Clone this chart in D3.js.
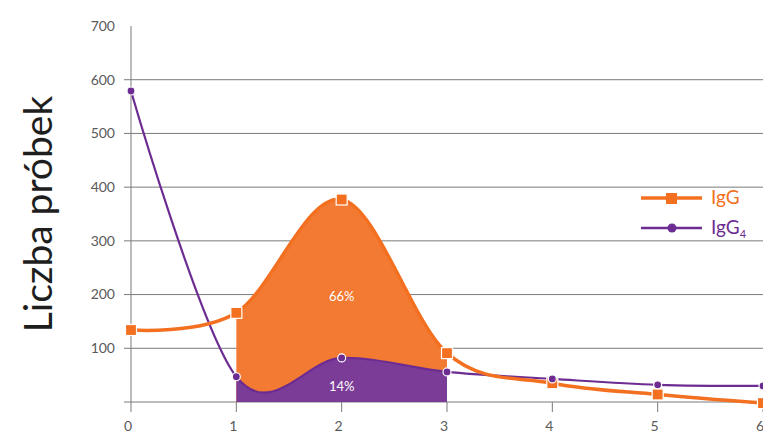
<!DOCTYPE html>
<html>
<head>
  <meta charset="utf-8">
  <title>IgG / IgG4</title>
  <script src="https://d3js.org/d3.v7.min.js"></script>
  <style>
    body { margin: 0; background: #fff; }
    svg { display: block; font-family: Lato, "Open Sans", sans-serif; }
  </style>
</head>
<body>
  <div id="chart"></div>
  <script>
    // dane
    var xValues = [0, 1, 2, 3, 4, 5, 6];
    var igg = [134, 166, 377, 91, 35, 14, -2];
    var igg4 = [579, 47, 82, 56, 43, 32, 30];
    var yTicks = [100, 200, 300, 400, 500, 600, 700];
    var xTicks = [0, 1, 2, 3, 4, 5, 6];
    var shadeFrom = 1, shadeTo = 3;
    var iggShare = "66%", igg4Share = "14%";

    var W = 763, H = 431;
    var orange = "#f37021", orangeFill = "#f37a32";
    var purple = "#6d2c91", purpleFill = "#7b3c98";

    var svg = d3.select("#chart").append("svg")
      .attr("width", W).attr("height", H);

    var x = d3.scaleLinear().domain([0, 6]).range([131, 763]);
    var y = d3.scaleLinear().domain([0, 700]).range([402, 26]);

    // siatka pozioma
    svg.append("g")
      .selectAll("line")
      .data([0].concat(yTicks.filter(d => d < 700)))
      .join("line")
      .attr("x1", 124).attr("x2", W)
      .attr("y1", d => y(d)).attr("y2", d => y(d))
      .attr("stroke", "#7a7a7a").attr("stroke-width", 1);

    // os Y
    svg.append("line")
      .attr("x1", x(0)).attr("x2", x(0))
      .attr("y1", y(700)).attr("y2", y(0))
      .attr("stroke", "#7a7a7a").attr("stroke-width", 1);

    svg.append("g").selectAll("text")
      .data(yTicks)
      .join("text")
      .attr("x", 115)
      .attr("y", d => y(d))
      .attr("dy", "0.35em")
      .attr("text-anchor", "end")
      .attr("fill", "#5a5a5a")
      .attr("font-size", 14)
      .text(d => d);

    // os X
    svg.append("g").selectAll("line")
      .data(xTicks)
      .join("line")
      .attr("x1", d => x(d)).attr("x2", d => x(d))
      .attr("y1", y(0)).attr("y2", y(0) + 10)
      .attr("stroke", "#7a7a7a");

    svg.append("g").selectAll("text")
      .data(xTicks)
      .join("text")
      .attr("x", d => x(d) - 3)
      .attr("y", 431)
      .attr("text-anchor", "middle")
      .attr("fill", "#5a5a5a")
      .attr("font-size", 14)
      .text(d => d);

    // podpis osi
    svg.append("text")
      .attr("transform", "translate(52,214) rotate(-90)")
      .attr("text-anchor", "middle")
      .attr("fill", "#1e1e1e")
      .attr("font-size", 39)
      .text("Liczba próbek");

    var iggPts = xValues.map((d, i) => [d, igg[i]]);
    var igg4Pts = xValues.map((d, i) => [d, igg4[i]]);
    var curve = d3.curveCardinal.tension(0);

    // obszary zacienione miedzy 1 a 3
    svg.append("clipPath").attr("id", "shade")
      .append("rect")
      .attr("x", x(shadeFrom)).attr("y", 0)
      .attr("width", x(shadeTo) - x(shadeFrom)).attr("height", y(0));

    var area = d3.area()
      .x(d => x(d[0])).y0(y(0)).y1(d => y(d[1]))
      .curve(curve);

    svg.append("path").datum(iggPts)
      .attr("clip-path", "url(#shade)")
      .attr("fill", orangeFill)
      .attr("d", area);

    svg.append("path").datum(igg4Pts)
      .attr("clip-path", "url(#shade)")
      .attr("fill", purpleFill)
      .attr("d", area);

    var line = d3.line().x(d => x(d[0])).y(d => y(d[1])).curve(curve);

    svg.append("path").datum(igg4Pts)
      .attr("fill", "none").attr("stroke", purple)
      .attr("stroke-width", 2.2)
      .attr("d", line);

    svg.append("path").datum(iggPts)
      .attr("fill", "none").attr("stroke", orange)
      .attr("stroke-width", 3.5)
      .attr("d", line);

    // znaczniki
    svg.append("g").selectAll("rect")
      .data(iggPts)
      .join("rect")
      .attr("x", d => x(d[0]) - 5.5).attr("y", d => y(d[1]) - 5.5)
      .attr("width", 11).attr("height", 11)
      .attr("fill", orange).attr("stroke", "#fff").attr("stroke-width", 1.2);

    svg.append("g").selectAll("circle")
      .data(igg4Pts)
      .join("circle")
      .attr("cx", d => x(d[0])).attr("cy", d => y(d[1]))
      .attr("r", 4)
      .attr("fill", purple).attr("stroke", "#fff").attr("stroke-width", 1.2);

    // etykiety procentowe
    svg.append("text")
      .attr("x", x(2)).attr("y", y(200) + 6)
      .attr("text-anchor", "middle").attr("fill", "#fff")
      .attr("font-size", 13)
      .text(iggShare);

    svg.append("text")
      .attr("x", x(2)).attr("y", y(30) + 5)
      .attr("text-anchor", "middle").attr("fill", "#fff")
      .attr("font-size", 13)
      .text(igg4Share);

    // legenda
    var legend = svg.append("g");
    legend.append("line")
      .attr("x1", 641).attr("x2", 702).attr("y1", 198).attr("y2", 198)
      .attr("stroke", orange).attr("stroke-width", 3.5);
    legend.append("rect")
      .attr("x", 666).attr("y", 193).attr("width", 11).attr("height", 11)
      .attr("fill", orange);
    legend.append("text")
      .attr("x", 711).attr("y", 204)
      .attr("fill", orange).attr("font-size", 19)
      .text("IgG");

    legend.append("line")
      .attr("x1", 641).attr("x2", 702).attr("y1", 228).attr("y2", 228)
      .attr("stroke", purple).attr("stroke-width", 2.5);
    legend.append("circle")
      .attr("cx", 672).attr("cy", 228).attr("r", 4.5)
      .attr("fill", purple);
    var t4 = legend.append("text")
      .attr("x", 711).attr("y", 234)
      .attr("fill", purple).attr("font-size", 19);
    t4.append("tspan").text("IgG");
    t4.append("tspan").attr("font-size", 11).attr("dy", 4).text("4");
  </script>
</body>
</html>
